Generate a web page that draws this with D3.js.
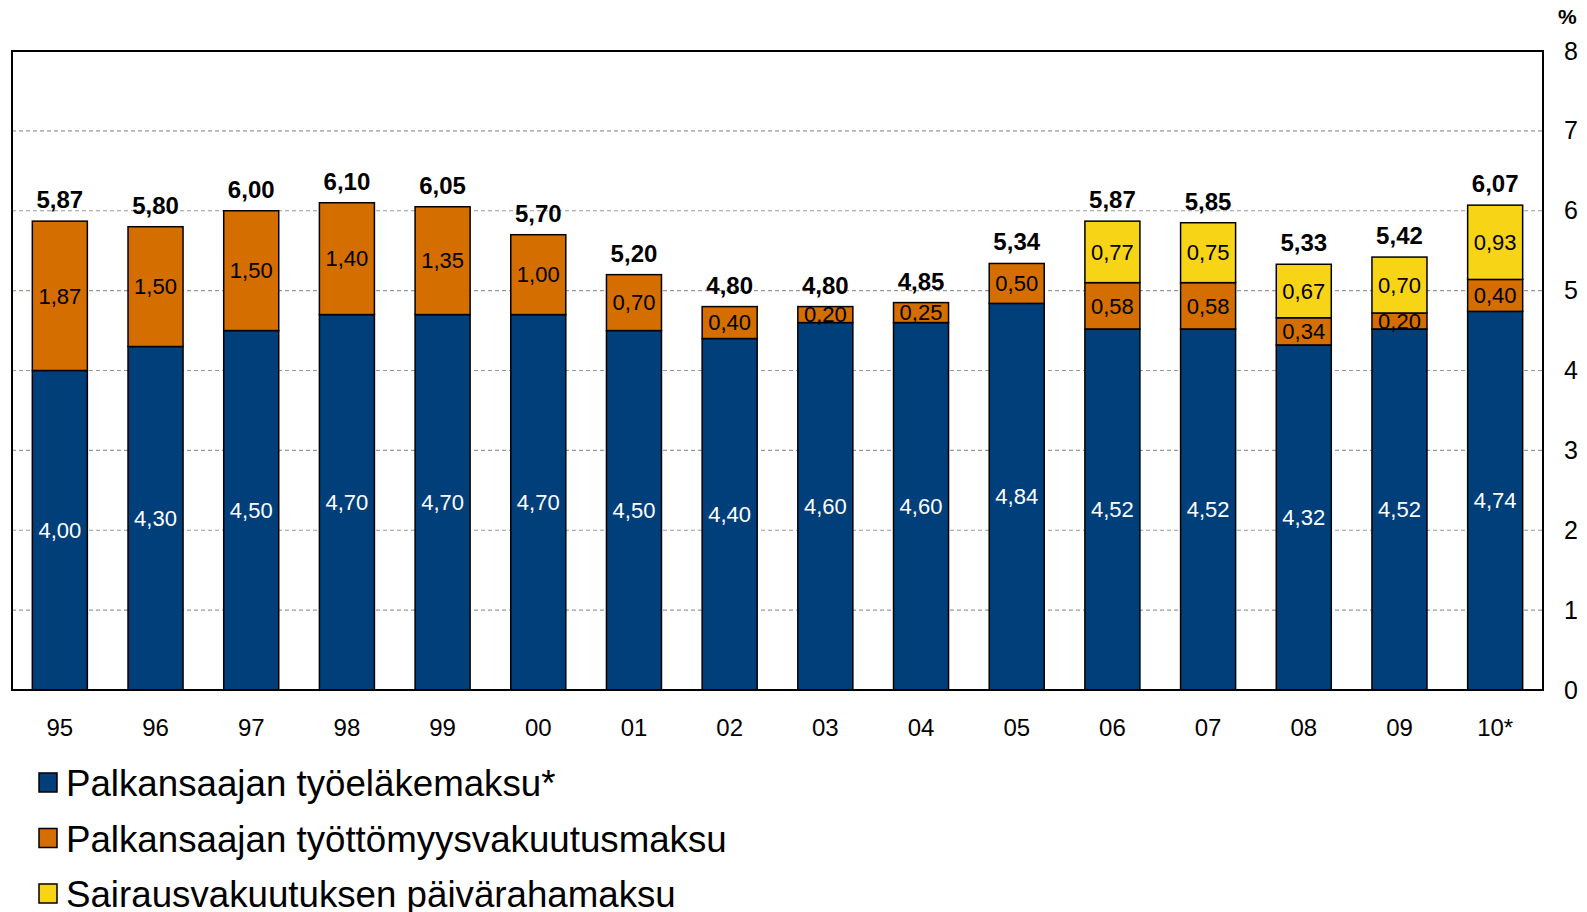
<!DOCTYPE html>
<html>
<head>
<meta charset="utf-8">
<script src="https://cdn.jsdelivr.net/npm/d3@7"></script>
<style>
  body { margin: 0; background: #fff; }
  text { font-family: "Liberation Sans", Arial, sans-serif; }
</style>
</head>
<body>
<svg width="1587" height="912"></svg>
<script>
var years = ["95","96","97","98","99","00","01","02","03","04","05","06","07","08","09","10*"];
var tyoelake = [4.00,4.30,4.50,4.70,4.70,4.70,4.50,4.40,4.60,4.60,4.84,4.52,4.52,4.32,4.52,4.74];
var tyottomyys = [1.87,1.50,1.50,1.40,1.35,1.00,0.70,0.40,0.20,0.25,0.50,0.58,0.58,0.34,0.20,0.40];
var paivaraha = [0,0,0,0,0,0,0,0,0,0,0,0.77,0.75,0.67,0.70,0.93];
var yTicks = [0,1,2,3,4,5,6,7,8];
var seriesNames = ["Palkansaajan työeläkemaksu*", "Palkansaajan työttömyysvakuutusmaksu", "Sairausvakuutuksen päivärahamaksu"];
var colors = ["#003f7a", "#d46e00", "#f8d417"];
var labelColors = ["#fff", "#000", "#000"];

var svg = d3.select('svg');
var plotLeft = 12, plotRight = 1543, plotTop = 51, plotBottom = 690;

var x = d3.scaleBand().domain(years).range([plotLeft, plotRight]).paddingInner(0.425).paddingOuter(0.2125);
var y = d3.scaleLinear().domain([0, 8]).range([plotBottom, plotTop]);

var fmt = function(v){ return v.toFixed(2).replace('.', ','); };

// gridlines
svg.append('g').selectAll('line')
    .data(yTicks.filter(function(t){ return t > 0 && t < 8; }))
    .enter().append('line')
    .attr('x1', plotLeft).attr('x2', plotRight)
    .attr('y1', function(d){ return y(d); }).attr('y2', function(d){ return y(d); })
    .attr('stroke', '#999').attr('stroke-width', 1.2).attr('stroke-dasharray', '4,3');

var rows = years.map(function(yr, i){
    return {year: yr, s0: tyoelake[i], s1: tyottomyys[i], s2: paivaraha[i]};
});
var stack = d3.stack().keys(["s0","s1","s2"])(rows);

stack.forEach(function(layer, k){
    var segs = layer.filter(function(d){ return d[1] - d[0] > 0; });
    svg.append('g').selectAll('rect').data(segs).enter().append('rect')
        .attr('x', function(d){ return x(d.data.year); })
        .attr('width', x.bandwidth())
        .attr('y', function(d){ return y(d[1]); })
        .attr('height', function(d){ return y(d[0]) - y(d[1]); })
        .attr('fill', colors[k])
        .attr('stroke', '#000').attr('stroke-width', 1.5);
});
stack.forEach(function(layer, k){
    var segs = layer.filter(function(d){ return d[1] - d[0] > 0; });
    svg.append('g').selectAll('text').data(segs).enter().append('text')
        .attr('x', function(d){ return x(d.data.year) + x.bandwidth() / 2; })
        .attr('y', function(d){ return (y(d[0]) + y(d[1])) / 2; })
        .attr('dy', '0.35em')
        .attr('text-anchor', 'middle')
        .attr('font-size', 22)
        .attr('fill', labelColors[k])
        .text(function(d){ return fmt(d[1] - d[0]); });
});

// totals
svg.append('g').selectAll('text').data(rows).enter().append('text')
    .attr('x', function(d){ return x(d.year) + x.bandwidth() / 2; })
    .attr('y', function(d){ return y(d.s0 + d.s1 + d.s2) - 13; })
    .attr('text-anchor', 'middle')
    .attr('font-size', 24).attr('font-weight', 'bold')
    .text(function(d){ return fmt(d.s0 + d.s1 + d.s2); });

// frame
svg.append('rect')
    .attr('x', plotLeft).attr('y', plotTop)
    .attr('width', plotRight - plotLeft).attr('height', plotBottom - plotTop)
    .attr('fill', 'none').attr('stroke', '#000').attr('stroke-width', 2);

// axes
var xAxis = svg.append('g').attr('transform', 'translate(0,' + plotBottom + ')')
    .call(d3.axisBottom(x).tickSize(0).tickPadding(29));
xAxis.select('.domain').remove();
xAxis.selectAll('text').attr('font-size', 24).attr('fill', '#000')
    .attr('font-family', '"Liberation Sans", Arial, sans-serif');

var yAxis = svg.append('g').attr('transform', 'translate(' + plotRight + ',0)')
    .call(d3.axisRight(y).tickValues(yTicks).tickSize(0).tickPadding(21));
yAxis.select('.domain').remove();
yAxis.selectAll('text').attr('font-size', 25).attr('fill', '#000')
    .attr('font-family', '"Liberation Sans", Arial, sans-serif');

svg.append('text').attr('x', 1558).attr('y', 24).attr('font-size', 21)
    .attr('font-weight', 'bold').text('%');

// legend
var legend = svg.append('g').selectAll('g').data(seriesNames).enter().append('g')
    .attr('transform', function(d, i){ return 'translate(39,' + (783 + i * 55.5) + ')'; });
legend.append('rect').attr('x', 0).attr('y', -10).attr('width', 18).attr('height', 19)
    .attr('fill', function(d, i){ return colors[i]; })
    .attr('stroke', '#000').attr('stroke-width', 1.5);
legend.append('text').attr('x', 27).attr('y', 0).attr('dy', '0.36em')
    .attr('font-size', 36.7).text(function(d){ return d; });
</script>
</body>
</html>
